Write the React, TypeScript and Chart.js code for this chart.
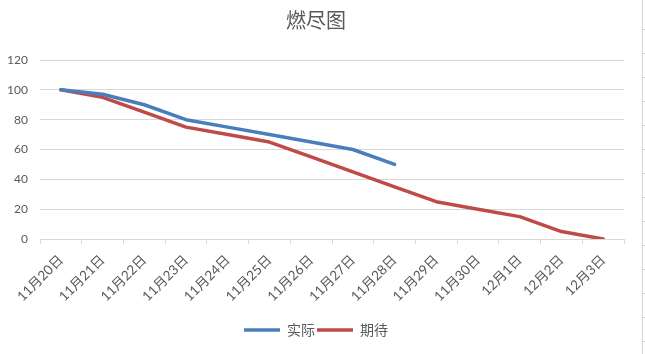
import React, { useEffect, useRef } from "react";
import { Chart, registerables } from "chart.js";

Chart.register(...registerables);

const categories = [
  "11月20日", "11月21日", "11月22日", "11月23日", "11月24日", "11月25日", "11月26日",
  "11月27日", "11月28日", "11月29日", "11月30日", "12月1日", "12月2日", "12月3日",
];
const actualValues: (number | null)[] = [100, 97, 90, 80, 75, 70, 65, 60, 50, null, null, null, null, null];
const expectedValues = [100, 95, 85, 75, 70, 65, 55, 45, 35, 25, 20, 15, 5, 0];
const yTicks = [0, 20, 40, 60, 80, 100, 120];

const FONT = "Lato, 'Noto Sans CJK SC', sans-serif";
const CJK = "'Noto Sans CJK SC', sans-serif";
const TEXT = "#595959";

export default function App() {
  const ref = useRef<HTMLCanvasElement>(null);
  useEffect(() => {
    document.body.style.margin = "0";
    const chart = new Chart(ref.current!, {
      type: "line",
      data: {
        labels: categories,
        datasets: [
          {
            label: "实际",
            data: actualValues,
            borderColor: "#4A7EBB",
            backgroundColor: "#4A7EBB",
            borderWidth: 3.5,
            borderCapStyle: "round",
            borderJoinStyle: "round",
            pointRadius: 0,
            tension: 0,
          },
          {
            label: "期待",
            data: expectedValues,
            borderColor: "#BE4B48",
            backgroundColor: "#BE4B48",
            borderWidth: 3.5,
            borderCapStyle: "round",
            borderJoinStyle: "round",
            pointRadius: 0,
            tension: 0,
          },
        ],
      },
      options: {
        responsive: false,
        animation: false,
        layout: { padding: { left: 8, right: 21, top: 0, bottom: 7 } },
        plugins: {
          tooltip: { enabled: false },
          title: {
            display: true,
            text: "燃尽图",
            color: TEXT,
            font: { family: CJK, size: 20, weight: "normal" },
            padding: { top: 8, bottom: 28 },
          },
          legend: {
            position: "bottom",
            labels: {
              usePointStyle: true,
              pointStyle: "line",
              pointStyleWidth: 36,
              boxHeight: 14,
              padding: 2,
              color: TEXT,
              font: { family: CJK, size: 14 },
            },
          },
        },
        scales: {
          x: {
            offset: true,
            afterFit: (s: any) => {
              s.height = 82;
              s.paddingLeft = 0;
              s.paddingRight = 0;
            },
            grid: {
              offset: true,
              drawOnChartArea: false,
              drawTicks: true,
              tickLength: 5,
              color: "#D9D9D9",
            },
            border: { display: true, color: "#D9D9D9" },
            ticks: {
              autoSkip: false,
              maxRotation: 45,
              minRotation: 45,
              color: TEXT,
              padding: 8,
              font: { family: FONT, size: 13.5 },
            },
          },
          y: {
            min: 0,
            max: 120,
            afterFit: (s: any) => {
              s.width = 32;
            },
            afterBuildTicks: (s: any) => {
              s.ticks = yTicks.map((v) => ({ value: v }));
            },
            grid: { color: "#D9D9D9", drawTicks: false },
            border: { display: false },
            ticks: {
              color: TEXT,
              padding: 12,
              font: { family: FONT, size: 12 },
            },
          },
        },
      },
    });
    return () => chart.destroy();
  }, []);
  return (
    <div style={{ position: "relative", width: 645, height: 354, background: "#fff" }}>
      <canvas ref={ref} width={645} height={354} />
      <div
        style={{
          position: "absolute",
          left: 642,
          top: 0,
          width: 3,
          height: 354,
          borderLeft: "1px solid #D4D4D4",
          backgroundImage: "repeating-linear-gradient(to bottom, transparent 0px, transparent 23px, #D4D4D4 23px, #D4D4D4 24px)",
          backgroundPosition: "0 6px",
        }}
      />
    </div>
  );
}
